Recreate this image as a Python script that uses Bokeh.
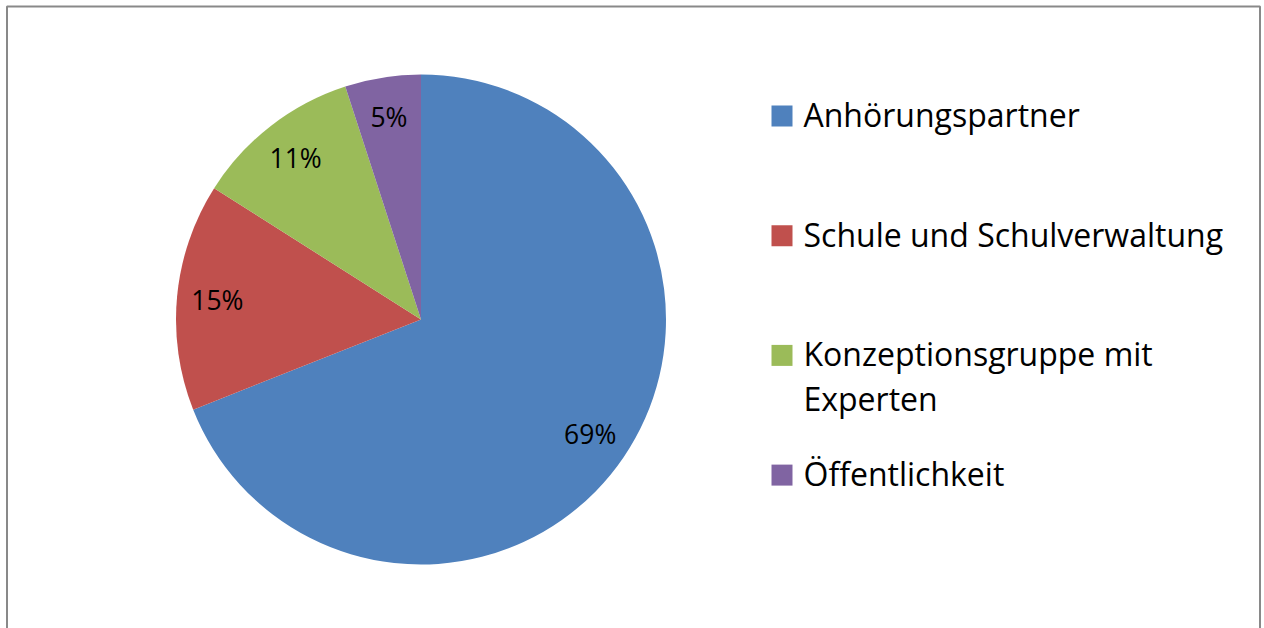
import numpy as np
from bokeh.plotting import figure
from bokeh.models import Range1d, ColumnDataSource
from bokeh.embed import file_html
from bokeh.resources import INLINE
from bokeh.core.properties import value

# ---- data ----
categories = ["Anhörungspartner", "Schule und Schulverwaltung",
              "Konzeptionsgruppe mit\nExperten", "Öffentlichkeit"]
shares = [69, 15, 11, 5]
pct_labels = ["69%", "15%", "11%", "5%"]
colors = ["#4F81BD", "#C0504D", "#9BBB59", "#8064A2"]

# ---- layout (pixel-like data space, y measured upward from bottom) ----
W, H = 1264, 628
FONT = "Open Sans"

p = figure(width=W, height=H, x_range=Range1d(0, W), y_range=Range1d(0, H),
           output_backend="svg", toolbar_location=None, min_border=0)
p.axis.visible = False
p.grid.visible = False
p.outline_line_color = None
p.background_fill_color = "white"
p.border_fill_color = "white"

# chart border (left, top, right)
p.line(x=[6.5, 6.5, 1259.5, 1259.5], y=[0, H - 6, H - 6, 0], line_color="#898989", line_width=2)

cx, cy, R = 420.5, H - 319.0, 245.0
frac = np.array(shares, dtype=float) / sum(shares)
cum = np.cumsum(frac)
start_frac = cum - frac
start = np.pi / 2 - 2 * np.pi * start_frac
end = np.pi / 2 - 2 * np.pi * cum
mid = (start + end) / 2
lf = 0.835

src = ColumnDataSource(dict(start=start, end=end, color=colors,
                            lx=cx + lf * R * np.cos(mid), ly=cy + lf * R * np.sin(mid),
                            lab=pct_labels))
p.wedge(x=cx, y=cy, radius=R, start_angle="start", end_angle="end", direction="clock",
        fill_color="color", line_color=None, source=src)
p.text(x="lx", y="ly", text="lab", source=src, text_font=value(FONT),
       text_font_size="26.5px", text_align="center", text_baseline="middle",
       text_color="black")

# ---- legend ----
row_gap = 119.7
sq_x, sq_y0, sq = 781.5, H - 115.5, 21
tx, base0, line_gap = 803, H - 114, 45
n = len(categories)
p.rect(x=[sq_x] * n, y=[sq_y0 - row_gap * i for i in range(n)], width=sq, height=sq,
       fill_color=colors, line_color=None)
tx_list, ty_list, tt_list = [], [], []
for i, cat in enumerate(categories):
    for j, line in enumerate(cat.split("\n")):
        tx_list.append(tx)
        ty_list.append(base0 - row_gap * i - line_gap * j)
        tt_list.append(line)
p.text(x=tx_list, y=ty_list, text=tt_list, text_font=value(FONT), text_font_size="32px",
       text_align="left", text_baseline="alphabetic", text_color="black")

open("out.html", "w").write(file_html(p, INLINE))
